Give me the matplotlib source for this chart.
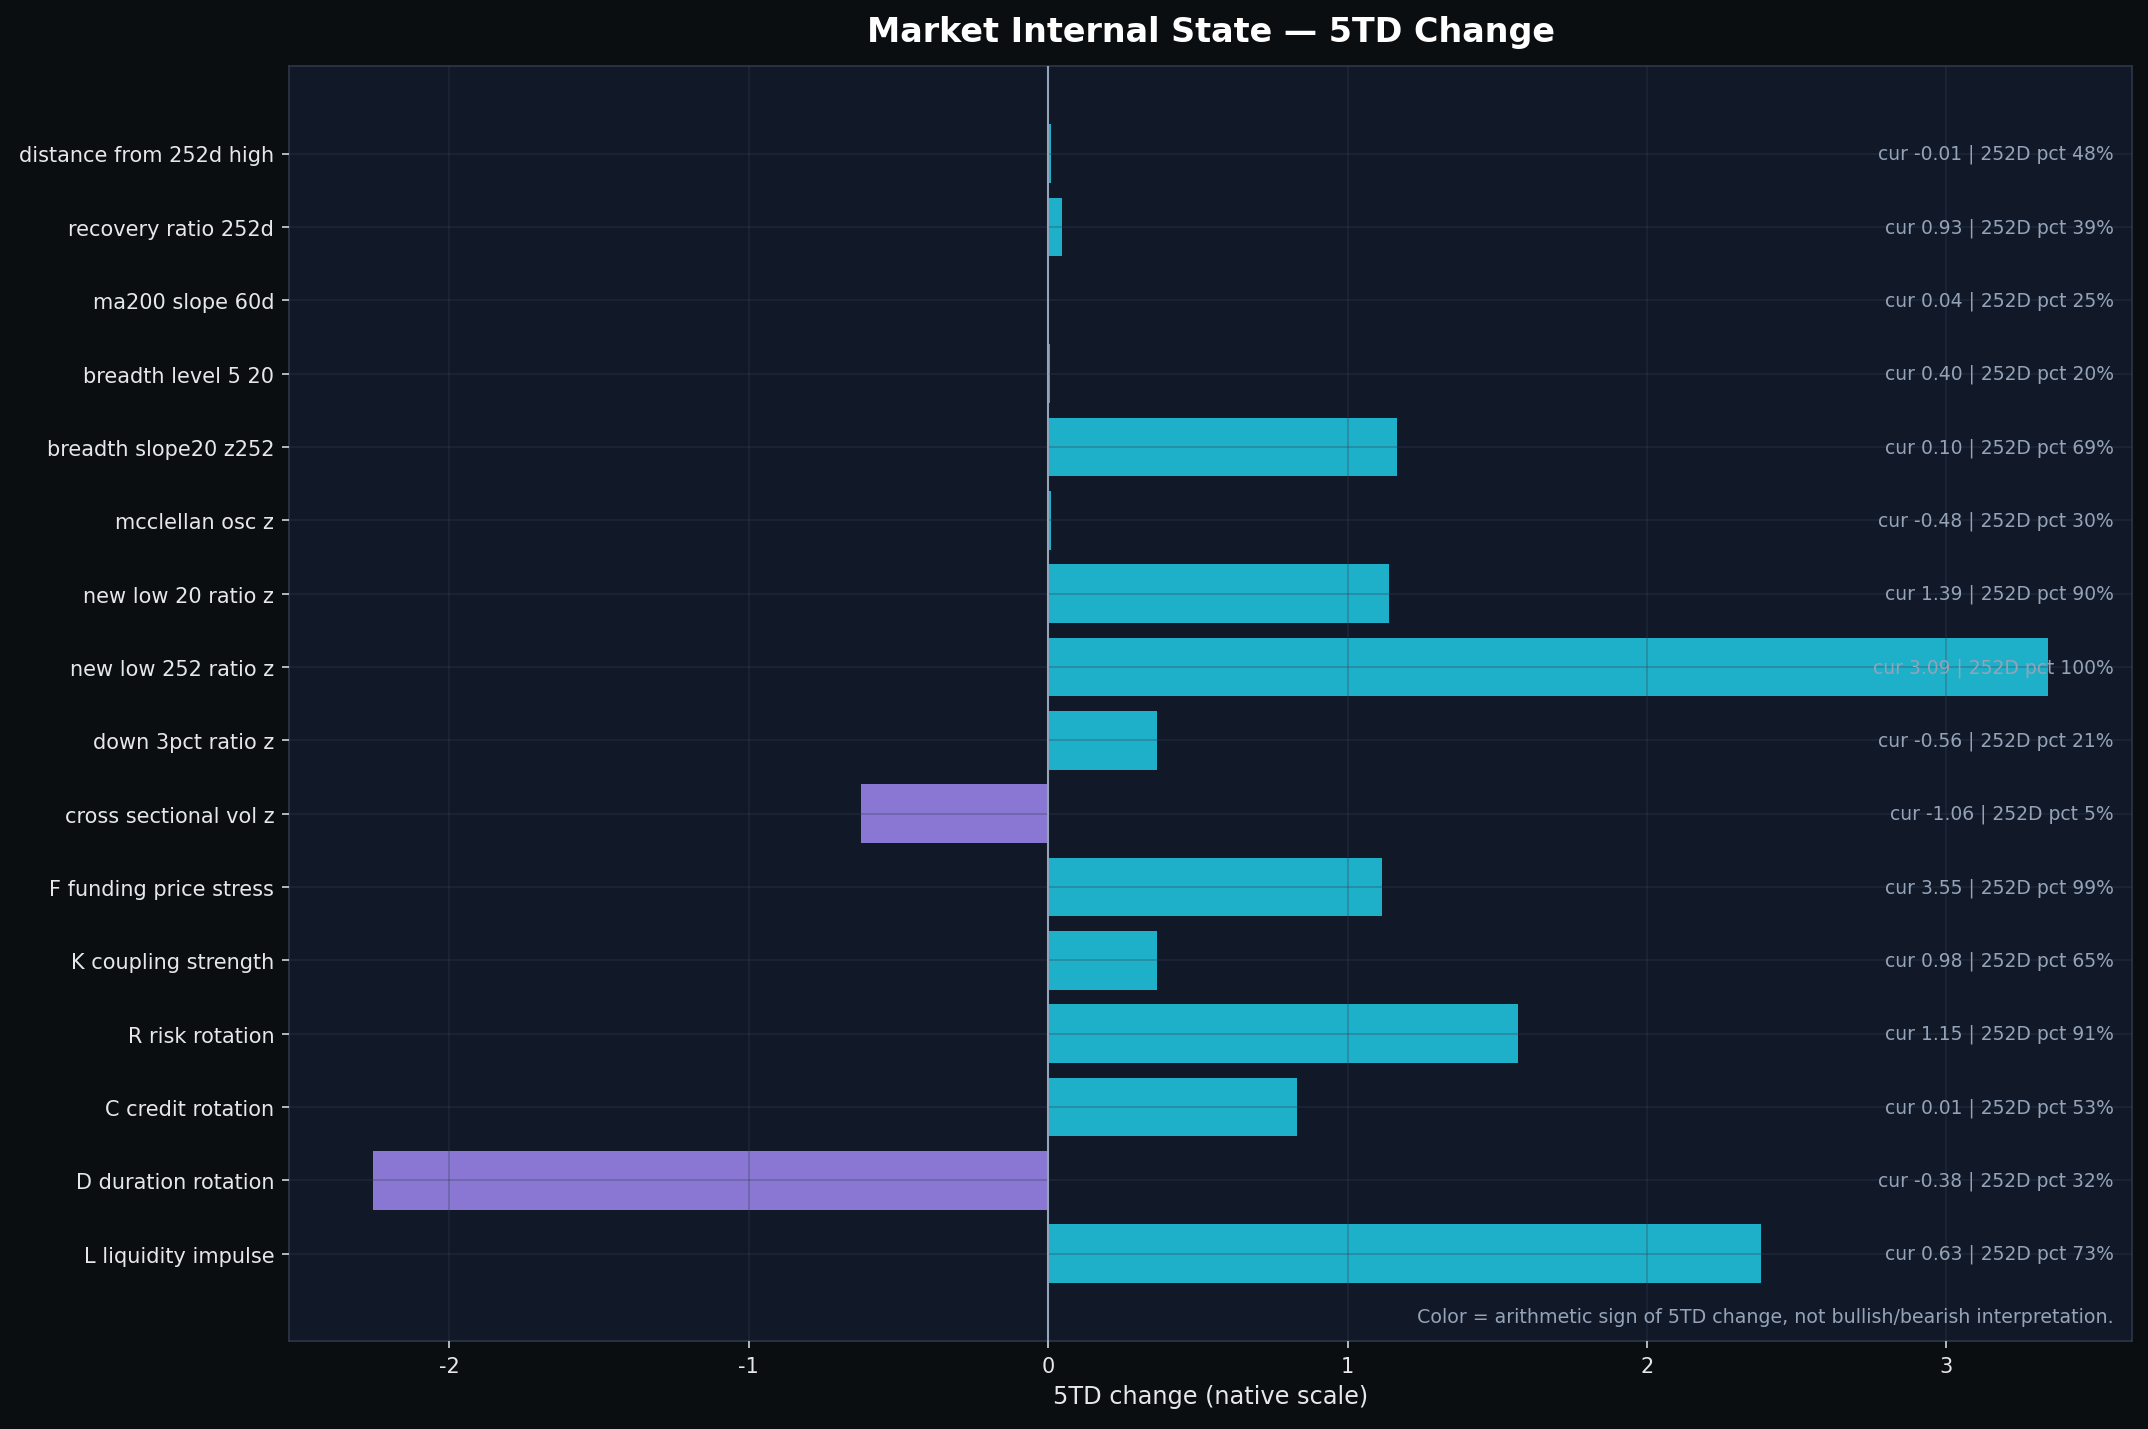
import matplotlib
matplotlib.use("Agg")
import matplotlib.pyplot as plt
import matplotlib.transforms as mtransforms

plt.rcParams["axes.unicode_minus"] = False

# data (top to bottom as shown)
labels = [
    "distance from 252d high", "recovery ratio 252d", "ma200 slope 60d",
    "breadth level 5 20", "breadth slope20 z252", "mcclellan osc z",
    "new low 20 ratio z", "new low 252 ratio z", "down 3pct ratio z",
    "cross sectional vol z", "F funding price stress", "K coupling strength",
    "R risk rotation", "C credit rotation", "D duration rotation",
    "L liquidity impulse",
]
change_5td = [0.01, 0.048, 0.0, 0.005, 1.165, 0.01, 1.14, 3.34, 0.365,
              -0.625, 1.115, 0.365, 1.57, 0.83, -2.255, 2.38]
cur_vals = [-0.01, 0.93, 0.04, 0.40, 0.10, -0.48, 1.39, 3.09, -0.56,
            -1.06, 3.55, 0.98, 1.15, 0.01, -0.38, 0.63]
pct_252d = [48, 39, 25, 20, 69, 30, 90, 100, 21, 5, 99, 65, 91, 53, 32, 73]

BG = "#0b0e11"
AX_BG = "#111827"
POS = "#1eb0c9"
NEG = "#8a77d3"
TXT = "#e5e7eb"
MUTED = "#94a3b8"

fig, ax = plt.subplots(figsize=(14.32, 9.533), dpi=150)
fig.patch.set_facecolor(BG)
ax.set_facecolor(AX_BG)
fig.subplots_adjust(left=0.1345, right=0.9926, bottom=0.0615, top=0.953)

ypos = list(range(len(labels)))
colors = [POS if v >= 0 else NEG for v in change_5td]
ax.barh(ypos, change_5td, color=colors, height=0.8)
ax.set_yticks(ypos)
ax.set_yticklabels(labels)
ax.invert_yaxis()

ax.axvline(0, color=MUTED, lw=1.0, zorder=4)
ax.set_axisbelow(False)
ax.grid(True, color="#334155", alpha=0.35, lw=0.8)

trans = mtransforms.blended_transform_factory(ax.transAxes, ax.transData)
for y, c, p in zip(ypos, cur_vals, pct_252d):
    ax.text(0.99, y, f"cur {c:.2f} | 252D pct {p}%", transform=trans,
            ha="right", va="center", fontsize=9, color=MUTED, zorder=5)

ax.text(0.99, 0.012,
        "Color = arithmetic sign of 5TD change, not bullish/bearish interpretation.",
        transform=ax.transAxes, ha="right", va="bottom", fontsize=9.1, color=MUTED)

ax.set_title("Market Internal State \u2014 5TD Change", color="white",
             fontsize=16, fontweight="bold", pad=12)
ax.set_xlabel("5TD change (native scale)", color=TXT, fontsize=11.5)
ax.tick_params(colors="#cbd5e1", labelcolor=TXT, labelsize=10)
for s in ax.spines.values():
    s.set_color("#2d3748")

fig.savefig("out.png", dpi=150, facecolor=BG)
